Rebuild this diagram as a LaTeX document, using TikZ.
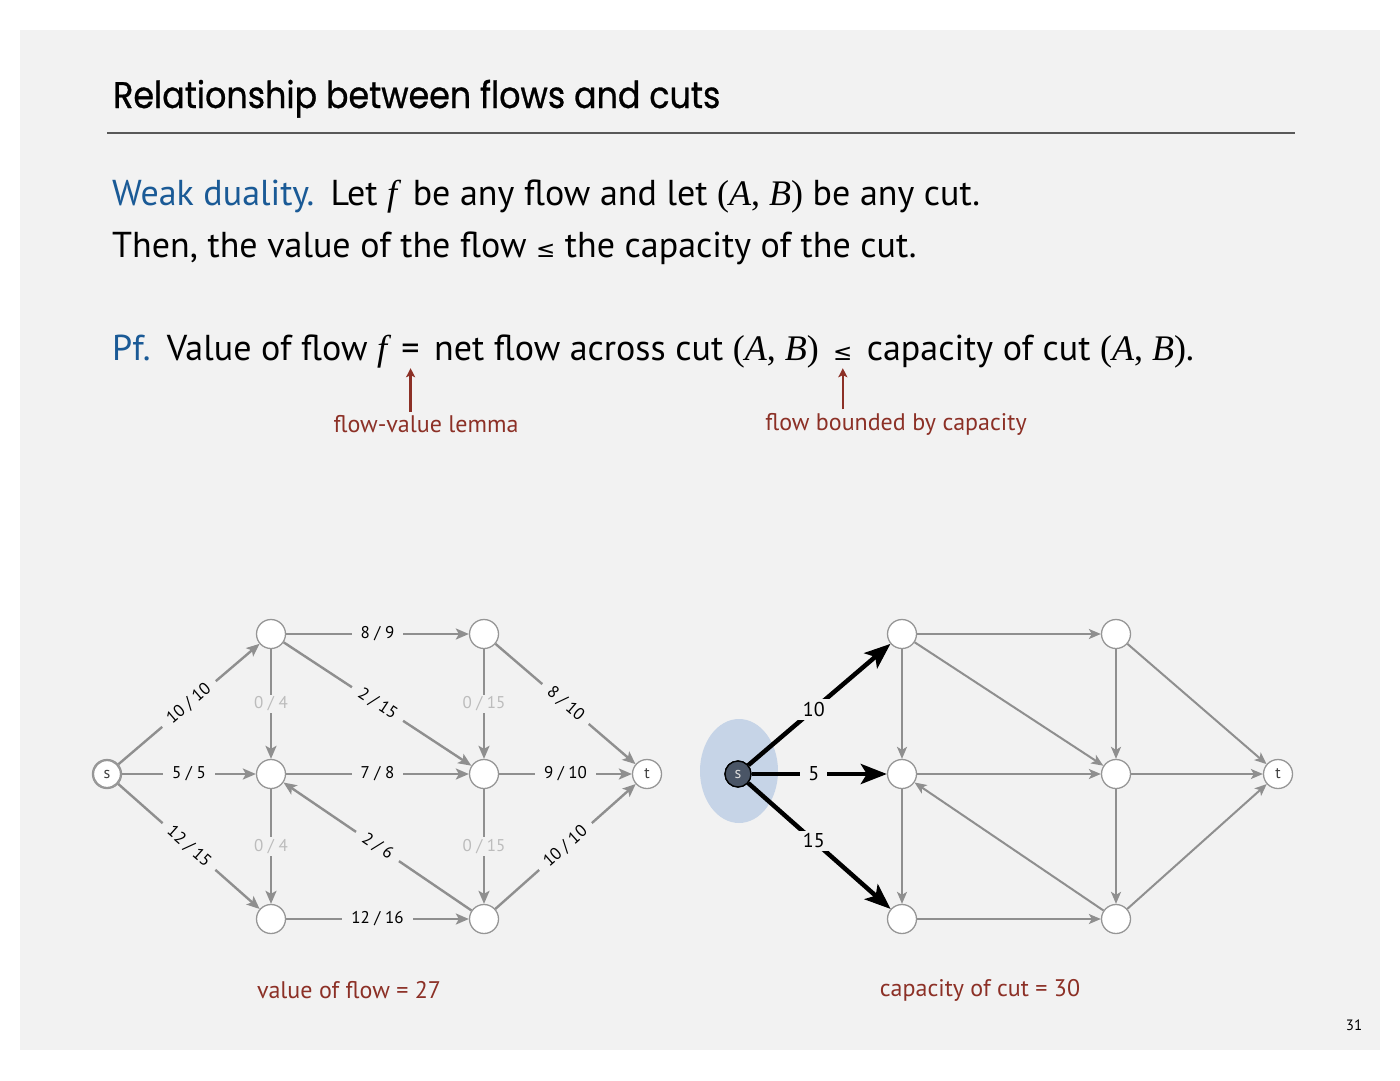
\documentclass[tikz,border=0pt]{standalone}
\usepackage{fontspec}
\setmainfont{PT Sans}
\newfontfamily\titlefont{Poppins}[FakeBold=0.8]
\newfontfamily\timesfont{Liberation Serif}
\newfontfamily\symfont{DejaVu Sans}
\usetikzlibrary{arrows.meta, positioning, calc}
\definecolor{slidebg}{RGB}{242,242,242}
\definecolor{biruslide}{RGB}{26,90,150}
\definecolor{merahslide}{RGB}{140,48,38}
\definecolor{abuedge}{RGB}{143,143,143}
\definecolor{abunode}{RGB}{150,150,150}
\definecolor{abulabel}{RGB}{188,188,188}
\definecolor{birucut}{RGB}{198,212,231}
\definecolor{sumberfill}{RGB}{74,85,102}
\newcommand{\mi}[1]{{\timesfont\itshape #1}}
\newcommand{\cutAB}{{\timesfont(\textit{A}, \textit{B})}}
\newcommand{\lesym}{{\symfont\fontsize{23}{23}\selectfont ≤}}

\begin{document}
\begin{tikzpicture}[x=1pt, y=-1pt,
    body/.style={anchor=base west, inner sep=0pt, font=\fontsize{36}{42}\selectfont},
    note/.style={text=merahslide, font=\fontsize{24}{28}\selectfont},
    vtx/.style={circle, draw=abunode, fill=white, line width=1.3pt, minimum size=29pt,
        inner sep=0pt, text=black!75, font=\fontsize{16}{16}\selectfont},
    fedge/.style={draw=abuedge, line width=2.4pt, -{Stealth[length=13pt, width=11pt, inset=3pt]}},
    redge/.style={draw=abuedge, line width=2pt, -{Stealth[length=12pt, width=10pt, inset=3pt]}},
    cedge/.style={draw=black, line width=4.5pt, -{Stealth[length=26pt, width=20pt, inset=6pt]}},
    lbl/.style={fill=slidebg, inner xsep=9pt, inner ysep=2pt, text=black, font=\fontsize{17}{17}\selectfont},
    clbl/.style={fill=slidebg, inner xsep=8pt, inner ysep=3pt, text=black, font=\fontsize{20}{20}\selectfont},
    uparrow/.style={draw=merahslide, line width=2.2pt, -{Stealth[length=9pt, width=9pt, inset=2pt]}}]

    % slide
    \fill[white] (0,0) rectangle (1400,1081);
    \fill[slidebg] (20,30) rectangle (1380,1050);
    \useasboundingbox (0,0) rectangle (1400,1081);

    \node[anchor=base west, inner sep=0pt, xscale=0.9, transform shape,
        font=\titlefont\fontsize{37}{40}\selectfont] (judul) at (113,108)
        {Relationship between flows and cuts};
    \draw[line width=1.5pt, black!65] (107,133) -- (1295,133);

    \node[body] (baris1) at (112,205)
        {\textcolor{biruslide}{Weak duality.}\hspace{0.45em}Let \mi{f}\, be any flow and let \cutAB\ be any cut.};
    \node[body] (baris2) at (112,257)
        {Then, the value of the flow \lesym\ the capacity of the cut.};

    % proof line
    \node[body] (pf) at (112,360) {\textcolor{biruslide}{Pf.}\hspace{0.45em}Value of flow \mi{f}};
    \node[body, base right=14pt of pf] (eq) {=};
    \node[body, base right=14pt of eq] (net) {net flow across cut \cutAB};
    \node[body, base right=14pt of net] (le) {\lesym};
    \node[body, base right=14pt of le] (cap) {capacity of cut \cutAB.};

    \node[note] (lemma) at (426,424) {flow-value lemma};
    \node[note] (batas) at (896,424) {flow bounded by capacity};
    \draw[uparrow] (lemma.north -| eq) -- ([yshift=-8pt]eq.south);
    \draw[uparrow] (batas.north -| le) -- ([yshift=-8pt]le.south);

    % value of flow
    \foreach \n/\x/\y/\t in {s/107/774/s, a/271/634/{}, b/271/774/{}, c/271/919/{},
        d/484/634/{}, e/484/774/{}, g/484/919/{}, t/647/774/t}
        \node[vtx] (\n) at (\x,\y) {\t};
    \node[vtx, minimum size=27pt] at (s) {s};

    \foreach \u/\v/\l in {s/a/{10 / 10}, s/b/{5 / 5}, s/c/{12 / 15}, a/d/{8 / 9},
        a/e/{2 / 15}, b/e/{7 / 8}, g/b/{2 / 6}, c/g/{12 / 16},
        d/t/{8 / 10}, e/t/{9 / 10}, g/t/{10 / 10}}
        \draw[fedge] (\u) -- node[lbl, sloped] {\l} (\v);
    \foreach \u/\v/\l in {a/b/{0 / 4}, b/c/{0 / 4}, d/e/{0 / 15}, e/g/{0 / 15}}
        \draw[fedge] (\u) -- node[lbl, text=abulabel] {\l} (\v);

    \node[note] (nilai) at (349,990) {value of flow = 27};

    % capacity of cut
    \fill[birucut] (739,771) ellipse [x radius=39, y radius=52];
    \foreach \n/\x/\y/\t in {ra/902/634/{}, rb/902/774/{}, rc/902/919/{},
        rd/1116/634/{}, re/1116/774/{}, rg/1116/919/{}, rt/1278/774/t}
        \node[vtx] (\n) at (\x,\y) {\t};
    \node[vtx, draw=black, fill=sumberfill, text=white!85!black, minimum size=26pt] (rs) at (738,774) {s};

    \foreach \u/\v in {ra/rd, ra/rb, ra/re, rb/re, rb/rc, rg/rb, rc/rg, rd/re, rd/rt, re/rt, re/rg, rg/rt}
        \draw[redge] (\u) -- (\v);
    \foreach \v/\l in {ra/10, rb/5, rc/15}
        \draw[cedge] (rs) -- node[clbl, pos=0.46] {\l} (\v);
    \node[vtx, draw=black, fill=sumberfill, text=white!85!black, minimum size=26pt] at (rs) {s};

    \node[note] (kapasitas) at (980,990) {capacity of cut = 30};
    \node[font=\fontsize{15}{15}\selectfont] (hal) at (1354,1025) {31};
\end{tikzpicture}
\end{document}
